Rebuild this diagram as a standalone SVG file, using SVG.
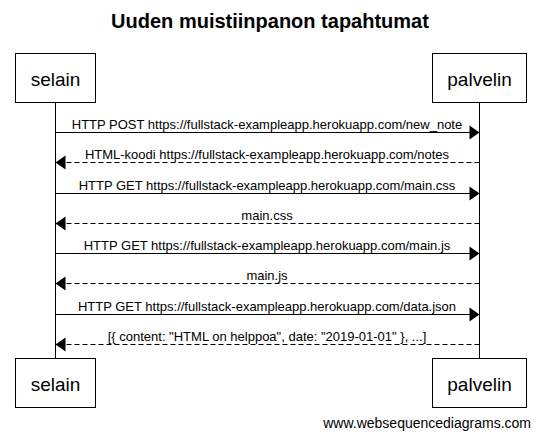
<svg xmlns="http://www.w3.org/2000/svg" width="540" height="442" viewBox="0 0 540 442">
<style>
text{font-family:"Liberation Sans",Arial,sans-serif;fill:#000}
.title{font-size:20px;font-weight:bold;text-anchor:middle}
.actor rect{fill:#fff;stroke:#000;stroke-width:1}
.actor text{font-size:19px;text-anchor:middle}
.life{stroke:#000;stroke-width:1}
.msg{stroke:#000;stroke-width:1;fill:none}
.ret{stroke-dasharray:5,3}
.lbl{font-size:13px;text-anchor:middle}
.head{fill:#000}
.wm{font-size:14px;text-anchor:end}
</style>
<rect width="540" height="442" fill="#fff"/>
<text class="title" x="270" y="28">Uuden muistiinpanon tapahtumat</text>
<g id="lifelines">
<line class="life" x1="55.5" y1="103" x2="55.5" y2="358"/>
<line class="life" x1="479.5" y1="103" x2="479.5" y2="358"/>
</g>
<g id="selain">
<g class="actor"><rect x="15.5" y="53.5" width="80" height="49"/><text x="55.5" y="85.5">selain</text></g>
<g class="actor"><rect x="15.5" y="358.5" width="80" height="49"/><text x="55.5" y="390.5">selain</text></g>
</g>
<g id="palvelin">
<g class="actor"><rect x="432.5" y="53.5" width="94" height="49"/><text x="479.5" y="85.5">palvelin</text></g>
<g class="actor"><rect x="432.5" y="358.5" width="94" height="49"/><text x="479.5" y="390.5">palvelin</text></g>
</g>
<g id="connectors">
<line class="msg" x1="55.5" y1="132.5" x2="470" y2="132.5"/>
<polygon class="head" points="469.5,125.5 479.5,132.5 469.5,139.5"/>
<text class="lbl" x="267" y="128.5">HTTP POST https://fullstack-exampleapp.herokuapp.com/new_note</text>

<line class="msg ret" x1="479.5" y1="162.5" x2="65" y2="162.5"/>
<polygon class="head" points="65.5,155.5 55.5,162.5 65.5,169.5"/>
<text class="lbl" x="267" y="158.5">HTML-koodi https://fullstack-exampleapp.herokuapp.com/notes</text>

<line class="msg" x1="55.5" y1="193.5" x2="470" y2="193.5"/>
<polygon class="head" points="469.5,186.5 479.5,193.5 469.5,200.5"/>
<text class="lbl" x="267" y="189.5">HTTP GET https://fullstack-exampleapp.herokuapp.com/main.css</text>

<line class="msg ret" x1="479.5" y1="223.5" x2="65" y2="223.5"/>
<polygon class="head" points="65.5,216.5 55.5,223.5 65.5,230.5"/>
<text class="lbl" x="267" y="219.5">main.css</text>

<line class="msg" x1="55.5" y1="253.5" x2="470" y2="253.5"/>
<polygon class="head" points="469.5,246.5 479.5,253.5 469.5,260.5"/>
<text class="lbl" x="267" y="249.5">HTTP GET https://fullstack-exampleapp.herokuapp.com/main.js</text>

<line class="msg ret" x1="479.5" y1="283.5" x2="65" y2="283.5"/>
<polygon class="head" points="65.5,276.5 55.5,283.5 65.5,290.5"/>
<text class="lbl" x="267" y="279.5">main.js</text>

<line class="msg" x1="55.5" y1="314.5" x2="470" y2="314.5"/>
<polygon class="head" points="469.5,307.5 479.5,314.5 469.5,321.5"/>
<text class="lbl" x="267" y="310.5">HTTP GET https://fullstack-exampleapp.herokuapp.com/data.json</text>

<line class="msg ret" x1="479.5" y1="344.5" x2="65" y2="344.5"/>
<polygon class="head" points="65.5,337.5 55.5,344.5 65.5,351.5"/>
<text class="lbl" x="267" y="340.5">[{ content: "HTML on helppoa", date: "2019-01-01" }, ...]</text>
</g>
<text class="wm" x="531" y="428">www.websequencediagrams.com</text>
</svg>
